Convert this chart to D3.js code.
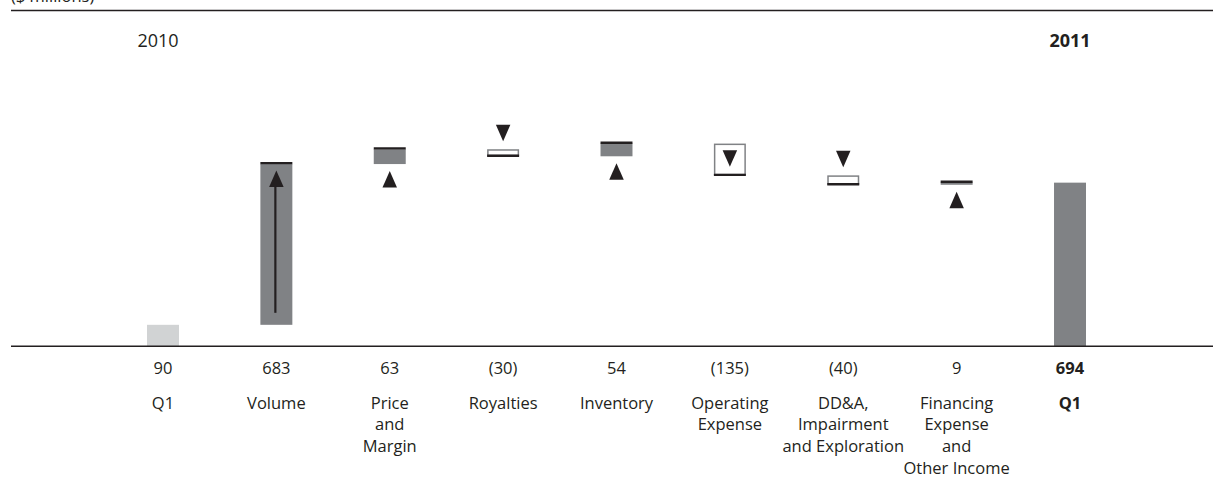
<!DOCTYPE html>
<html>
<head>
<meta charset="utf-8">
<script src="https://cdn.jsdelivr.net/npm/d3@7"></script>
<style>
  html, body { margin: 0; padding: 0; background: #fff; }
  svg { display: block; }
  text { font-family: "Open Sans", "Noto Sans", sans-serif; fill: #231f20; }
</style>
</head>
<body>
<svg id="chart" width="1213" height="498"></svg>
<script>
// Net income bridge, Q1 2010 to Q1 2011 ($ millions)
const categories = ["Q1", "Volume", "Price|and|Margin", "Royalties", "Inventory",
  "Operating|Expense", "DD&A,|Impairment|and Exploration", "Financing|Expense|and|Other Income", "Q1"];
const values = [90, 683, 63, -30, 54, -135, -40, 9, 694];
const valueLabels = ["90", "683", "63", "(30)", "54", "(135)", "(40)", "9", "694"];
const kinds = ["start", "delta", "delta", "delta", "delta", "delta", "delta", "delta", "end"];
const yearLabels = ["2010", "2011"];

const W = 1213;
const ink = "#231f20";
const darkGrey = "#808285";
const lightGrey = "#d1d3d4";

const svg = d3.select("#chart");

// running totals for the waterfall
let running = 0;
const steps = values.map((v, i) => {
  let from, to;
  if (kinds[i] === "start" || kinds[i] === "end") { from = 0; to = v; running = v; }
  else { from = running; to = running + v; running = to; }
  return { i, v, from, to, kind: kinds[i] };
});

const x = d3.scaleBand()
  .domain(d3.range(categories.length))
  .range([106.3, 1126.7])
  .paddingInner(0.718)
  .paddingOuter(0.359);

const y = d3.scaleLinear().domain([0, 1470]).range([346, 0]);

const bw = x.bandwidth();
const cx = i => x(i) + bw / 2;

// header rule and unit note
svg.append("text").attr("x", 11).attr("y", 1.5)
  .style("font-size", "16.5px").text("($ millions)");
svg.append("line").attr("x1", 11).attr("x2", W).attr("y1", 10.5).attr("y2", 10.5)
  .attr("stroke", ink).attr("stroke-width", 1.6);

// year captions
svg.append("text").attr("x", cx(0) - 5).attr("y", 47).attr("text-anchor", "middle")
  .style("font-size", "18px").text(yearLabels[0]);
svg.append("text").attr("x", cx(8)).attr("y", 47).attr("text-anchor", "middle")
  .style("font-size", "18px").style("font-weight", "bold").text(yearLabels[1]);

const g = svg.append("g");

steps.forEach(s => {
  const top = y(Math.max(s.from, s.to));
  const bot = y(Math.min(s.from, s.to));
  const h = bot - top;
  const left = x(s.i);
  const up = s.v >= 0;

  if (s.kind === "start" || s.kind === "end") {
    g.append("rect").attr("x", left).attr("y", top).attr("width", bw).attr("height", h)
      .attr("fill", s.kind === "start" ? lightGrey : darkGrey);
    return;
  }

  if (up) {
    g.append("rect").attr("x", left).attr("y", top).attr("width", bw).attr("height", h)
      .attr("fill", darkGrey);
    // closing edge sits on the new level
    g.append("line").attr("x1", left).attr("x2", left + bw)
      .attr("y1", top - 0.9).attr("y2", top - 0.9)
      .attr("stroke", ink).attr("stroke-width", 2.4);
  } else {
    g.append("rect").attr("x", left + 0.75).attr("y", top + 0.75)
      .attr("width", bw - 1.5).attr("height", h - 1.5)
      .attr("fill", "#fff").attr("stroke", darkGrey).attr("stroke-width", 1.5);
    g.append("line").attr("x1", left).attr("x2", left + bw)
      .attr("y1", bot - 0.5).attr("y2", bot - 0.5)
      .attr("stroke", ink).attr("stroke-width", 2.4);
  }

  // direction markers
  const tw = 14.5, th = 16.5;
  const c = cx(s.i);
  const tri = (apexY, dir) => {
    const baseY = apexY - dir * th;
    g.append("path")
      .attr("d", `M${c},${apexY}L${c - tw / 2},${baseY}L${c + tw / 2},${baseY}Z`)
      .attr("fill", ink);
  };
  if (h > 100) {
    // long arrow inside the bar
    const apex = top + 6.5;
    tri(apex, -1);
    g.append("line").attr("x1", c - 1).attr("x2", c - 1)
      .attr("y1", apex + th - 1).attr("y2", bot - 12)
      .attr("stroke", ink).attr("stroke-width", 2.2);
  } else if (h > 25) {
    const mid = (top + bot) / 2;
    if (up) tri(mid - th / 2, -1); else tri(mid + th / 2 - 1, 1);
  } else {
    if (up) tri(bot + 7, -1); else tri(top - 8, 1);
  }
});

// baseline
svg.append("line").attr("x1", 11).attr("x2", W).attr("y1", 346.3).attr("y2", 346.3)
  .attr("stroke", ink).attr("stroke-width", 1.6);

// value row
svg.append("g").selectAll("text").data(steps).join("text")
  .attr("x", d => cx(d.i)).attr("y", 374).attr("text-anchor", "middle")
  .style("font-size", "16.5px")
  .style("font-weight", d => d.kind === "end" ? "bold" : "normal")
  .text(d => valueLabels[d.i]);

// category row
const cat = svg.append("g").selectAll("text").data(steps).join("text")
  .attr("x", d => cx(d.i)).attr("y", 408.5).attr("text-anchor", "middle")
  .style("font-size", "16.5px")
  .style("font-weight", d => d.kind === "end" ? "bold" : "normal");
cat.each(function (d) {
  const lines = categories[d.i].split("|");
  d3.select(this).selectAll("tspan").data(lines).join("tspan")
    .attr("x", cx(d.i)).attr("dy", (l, k) => k === 0 ? 0 : 21.7).text(l => l);
});
</script>
</body>
</html>
